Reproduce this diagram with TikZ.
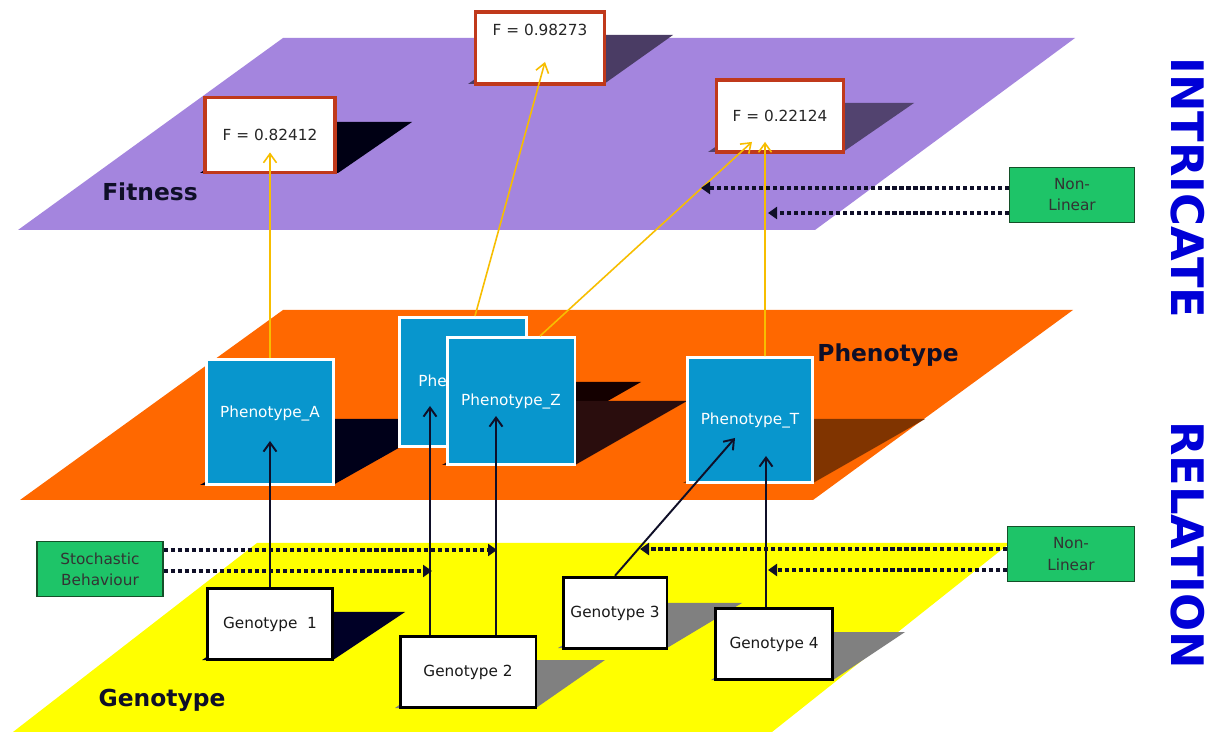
\documentclass[tikz,border=0pt]{standalone}
\usepackage{fontspec}
\setmainfont{DejaVu Sans}
\usepackage{tikz}
\usetikzlibrary{arrows.meta, positioning}
\definecolor{fitpurple}{RGB}{164,133,222}
\definecolor{phenorange}{RGB}{255,104,0}
\definecolor{genyellow}{RGB}{255,255,0}
\definecolor{phenblue}{RGB}{8,150,205}
\definecolor{fitred}{RGB}{192,57,27}
\definecolor{notegreen}{RGB}{30,196,104}
\definecolor{notedark}{RGB}{20,80,40}
\definecolor{labelnavy}{RGB}{15,15,40}
\definecolor{relblue}{RGB}{0,0,215}
\definecolor{linkgold}{RGB}{247,190,0}

\begin{document}
\begin{tikzpicture}[x=0.02cm, y=-0.02cm,
  fitbox/.style={draw=fitred, line width=2.2pt, fill=white, inner sep=0pt,
                 font=\fontsize{8.7}{10}\selectfont, text=black!85},
  phenbox/.style={draw=white, line width=1.7pt, fill=phenblue, inner sep=0pt,
                  minimum width=2.54cm, minimum height=2.5cm,
                  font=\fontsize{8.7}{10}\selectfont, text=white},
  genbox/.style={draw=black, line width=1.7pt, fill=white, inner sep=0pt,
                 minimum height=1.43cm, font=\fontsize{8.7}{10}\selectfont, text=black!90},
  notebox/.style={draw=notedark, line width=0.6pt, fill=notegreen, align=center,
                  minimum width=2.52cm, minimum height=1.1cm, inner sep=0pt,
                  font=\fontsize{8.7}{12}\selectfont, text=black!80},
  layer/.style={font=\fontsize{13.3}{16}\selectfont\bfseries, text=labelnavy},
  side/.style={font=\fontsize{25.5}{30}\selectfont\bfseries, text=relblue, rotate=-90},
  link/.style={line width=1.1pt, draw=labelnavy, -{Straight Barb[length=1.8mm, width=2.6mm]}},
  fitlink/.style={line width=0.9pt, draw=linkgold, -{Straight Barb[length=1.8mm, width=2.6mm]}},
  dotlink/.style={line width=2.3pt, draw=labelnavy, dash pattern=on 2.4pt off 1.6pt,
                  -{Triangle[length=1.8mm, width=2.4mm]}}]
\fill[white] (0,0) rectangle (1220,732);
\useasboundingbox (0,0) rectangle (1220,732);

% layers
\fill[fitpurple] (283,38) -- (1075,38) -- (815,230) -- (18,230) -- cycle;
\fill[phenorange] (283,310) -- (1073,310) -- (813,500) -- (20,500) -- cycle;
\fill[genyellow] (257,543) -- (1010,543) -- (772,732) -- (13,732) -- cycle;

% shadows
\fill[black!60!blue!20!black] (200,173) -- (338,173) -- (412,122) -- (274,122) -- cycle;
\fill[fitpurple!45!black] (468,84) -- (604,84) -- (673,35) -- (537,35) -- cycle;
\fill[fitpurple!50!black] (708,152) -- (843,152) -- (914,103) -- (779,103) -- cycle;
\fill[blue!10!black] (200,485) -- (333,485) -- (450,419) -- (317,419) -- cycle;
\fill[red!8!black] (395,447) -- (527,447) -- (641,382) -- (509,382) -- cycle;
\fill[red!12!black!95] (442,465) -- (575,465) -- (687,401) -- (554,401) -- cycle;
\fill[phenorange!50!black] (683,483) -- (813,483) -- (925,419) -- (795,419) -- cycle;
\fill[black!85!blue] (202,660) -- (333,660) -- (405,612) -- (274,612) -- cycle;
\fill[black!50] (395,708) -- (536,708) -- (605,660) -- (464,660) -- cycle;
\fill[black!50] (558,648) -- (667,648) -- (742,603) -- (633,603) -- cycle;
\fill[black!50] (711,680) -- (833,680) -- (905,632) -- (783,632) -- cycle;

\node[layer] (fitlbl) at (150,192) {Fitness};
\node[layer] (phenlbl) at (888,355) {Phenotype};
\node[layer] (genlbl) at (162,700) {Genotype};

\node[fitbox, minimum width=2.6cm, minimum height=1.5cm] (f1) at (270,135) {F = 0.82412};
\node[fitbox, minimum width=2.58cm, minimum height=1.44cm, text height=7pt, text depth=21pt] (f2) at (540,48) {F = 0.98273};
\node[fitbox, minimum width=2.54cm, minimum height=1.44cm] (f3) at (780,116) {F = 0.22124};

\node[phenbox, text height=7pt, text depth=12pt] (pha) at (270,422) {Phenotype\_A};
\node[phenbox, minimum height=2.58cm] (phh) at (463,382) {Phenotype\_};
\node[phenbox, minimum width=2.56cm, minimum height=2.54cm] (phz) at (511,401) {Phenotype\_Z};
\node[phenbox, minimum width=2.5cm] (pht) at (750,420) {Phenotype\_T};

\node[genbox, minimum width=2.52cm] (g1) at (270,624) {Genotype\ \ 1};
\node[genbox, minimum width=2.72cm] (g2) at (468,672) {Genotype 2};
\node[genbox, minimum width=2.08cm] (g3) at (615,613) {Genotype 3};
\node[genbox, minimum width=2.34cm] (g4) at (774,644) {Genotype 4};

\node[notebox] (stoch) at (100,569) {Stochastic\\Behaviour};
\node[notebox, minimum width=2.5cm] (nlup) at (1072,195) {Non-\\Linear};
\node[notebox, minimum width=2.54cm] (nllow) at (1071,554) {Non-\\Linear};

\node[side] (intricate) at (1188,188) {INTRICATE};
\node[side] (relation) at (1188,545) {RELATION};

\coordinate (stoch-a) at (497,550);
\coordinate (stoch-b) at (432,571);
\coordinate (nlup-a) at (701,188);
\coordinate (nlup-b) at (768,213);
\coordinate (nllow-a) at (640,549);
\coordinate (nllow-b) at (768,570);

\draw[fitlink] (pha.north) -- ([yshift=0.44cm]f1.south);
\draw[fitlink] ([xshift=0.24cm]phh.north) -- ([xshift=0.1cm, yshift=0.48cm]f2.south);
\draw[fitlink] ([xshift=0.58cm]phz.north) -- ([xshift=-0.56cm, yshift=0.24cm]f3.south);
\draw[fitlink] ([xshift=0.3cm]pht.north) -- ([xshift=-0.3cm, yshift=0.24cm]f3.south);

\draw[link] (g1.north) -- ([yshift=0.9cm]pha.south);
\draw[link] ([xshift=-0.76cm]g2.north) -- ([xshift=-0.66cm, yshift=0.84cm]phh.south);
\draw[link] ([xshift=0.56cm]g2.north) -- ([xshift=-0.3cm, yshift=1cm]phz.south);
\draw[link] (g3.north) -- ([xshift=-0.3cm, yshift=0.92cm]pht.south);
\draw[link] ([xshift=-0.16cm]g4.north) -- ([xshift=0.32cm, yshift=0.56cm]pht.south);

\draw[dotlink] (stoch.east |- stoch-a) -- (stoch-a);
\draw[dotlink] (stoch.east |- stoch-b) -- (stoch-b);
\draw[dotlink] (nlup.west |- nlup-a) -- (nlup-a);
\draw[dotlink] (nlup.west |- nlup-b) -- (nlup-b);
\draw[dotlink] (nllow.west |- nllow-a) -- (nllow-a);
\draw[dotlink] (nllow.west |- nllow-b) -- (nllow-b);
\end{tikzpicture}
\end{document}
